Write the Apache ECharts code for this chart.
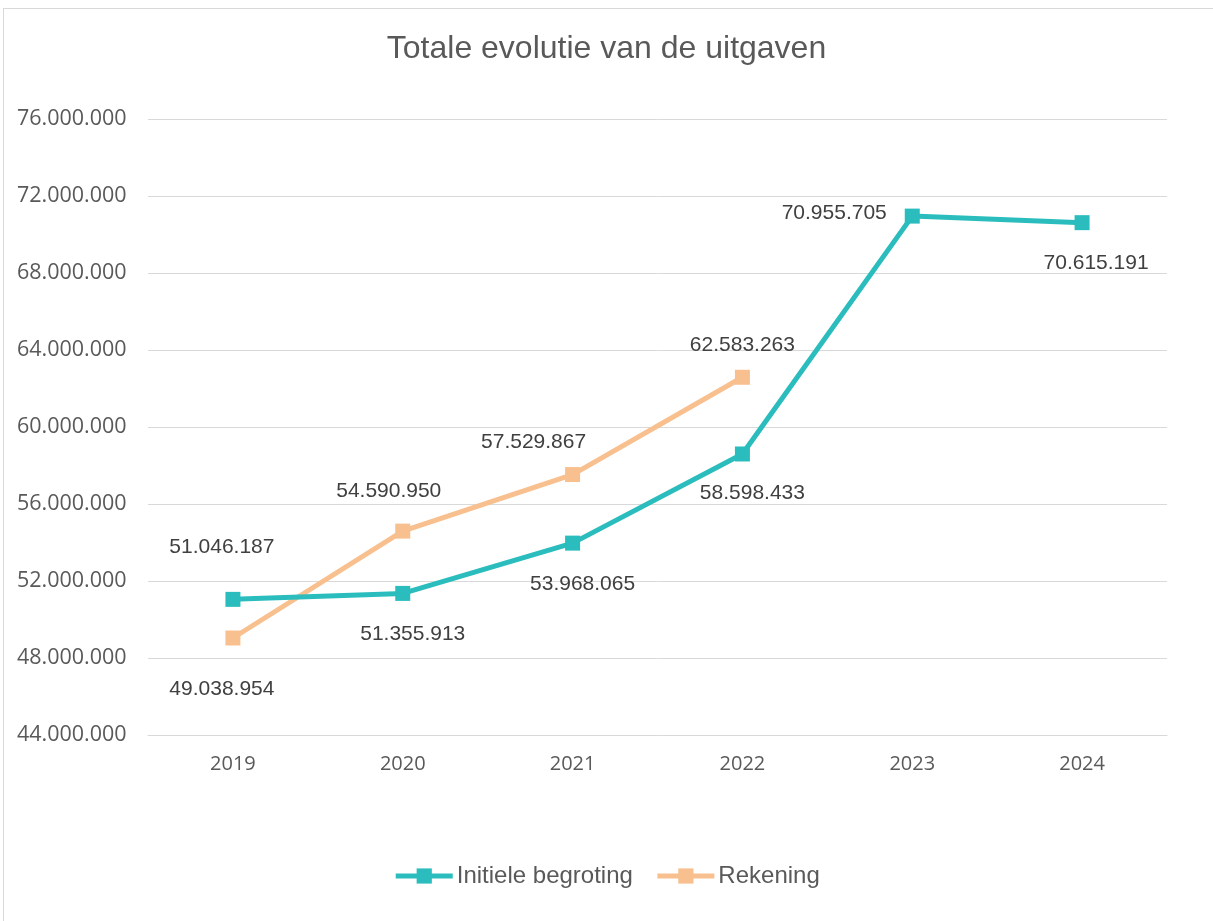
<!DOCTYPE html>
<html>
<head>
<meta charset="utf-8">
<script src="https://cdn.jsdelivr.net/npm/echarts@6/dist/echarts.min.js"></script>
<style>
  html, body { margin: 0; padding: 0; background: #fff; overflow: hidden; }
  #frame { position: absolute; left: 3px; top: 8px; width: 1230px; height: 940px; border: 1px solid #d9d9d9; }
  #chart { position: absolute; left: 0; top: 0; width: 1213px; height: 921px; }
</style>
</head>
<body>
<div id="frame"></div>
<div id="chart"></div>
<script>
const years = ['2019', '2020', '2021', '2022', '2023', '2024']
const begroting = [51046187, 51355913, 53968065, 58598433, 70955705, 70615191]
const rekening = [49038954, 54590950, 57529867, 62583263, null, null]

// label placement per point (style, not data)
const begrotingLabelPos = [
  { position: 'top', offset: [-11, -24] },
  { position: 'bottom', offset: [10, 13] },
  { position: 'bottom', offset: [10, 13] },
  { position: 'bottom', offset: [10, 11] },
  { position: 'left', offset: [-8, -3] },
  { position: 'bottom', offset: [14, 13] }
]
const rekeningLabelPos = [
  { position: 'bottom', offset: [-11, 23] },
  { position: 'top', offset: [-14, -12] },
  { position: 'top', offset: [-39, -4] },
  { position: 'top', offset: [0, -4] }
]

const fmt = v => v.toLocaleString('de-DE')

const chart = echarts.init(document.getElementById('chart'))

const labelBase = {
  show: true,
  color: '#404040',
  fontFamily: 'Liberation Sans, Arial, sans-serif',
  fontSize: 21,
  distance: 10,
  formatter: p => fmt(p.value)
}

function buildData(values, positions) {
  return values.map((v, i) => {
    if (v === null) return null
    return { value: v, label: Object.assign({}, positions[i]) }
  })
}

const option = {
  animation: false,
  title: {
    text: 'Totale evolutie van de uitgaven',
    left: 'center',
    top: 28,
    textStyle: {
      fontFamily: 'Liberation Sans, Arial, sans-serif',
      fontWeight: 'normal',
      fontSize: 32,
      color: '#595959'
    }
  },
  legend: {
    bottom: 28,
    left: 'center',
    itemWidth: 57,
    itemHeight: 19,
    itemGap: 22,
    textStyle: {
      fontFamily: 'Liberation Sans, Arial, sans-serif',
      fontSize: 24,
      color: '#595959',
      padding: [0, 0, 0, -1]
    },
    data: [
      { name: 'Initiele begroting', lineStyle: { width: 5 } },
      { name: 'Rekening', lineStyle: { width: 5 } }
    ]
  },
  grid: {
    left: 148,
    right: 46,
    top: 119,
    bottom: 186,
    containLabel: false
  },
  xAxis: {
    type: 'category',
    data: years,
    boundaryGap: true,
    axisLine: { show: true, lineStyle: { color: '#d9d9d9', width: 1 } },
    axisTick: { show: false },
    axisLabel: {
      color: '#595959',
      fontFamily: 'Open Sans, Noto Sans, sans-serif',
      fontSize: 20,
      margin: 19
    }
  },
  yAxis: {
    type: 'value',
    min: 44000000,
    max: 76000000,
    interval: 4000000,
    axisLine: { show: false },
    axisTick: { show: false },
    splitLine: { lineStyle: { color: '#d9d9d9', width: 1 } },
    axisLabel: {
      align: 'left',
      margin: 131,
      color: '#595959',
      fontFamily: 'Open Sans, Noto Sans, sans-serif',
      fontSize: 21.5,
      formatter: v => fmt(v)
    }
  },
  series: [
    {
      name: 'Initiele begroting',
      type: 'line',
      data: buildData(begroting, begrotingLabelPos),
      symbol: 'rect',
      symbolSize: 15,
      itemStyle: { color: '#2bbdbd' },
      lineStyle: { color: '#2bbdbd', width: 5 },
      label: labelBase,
      z: 3
    },
    {
      name: 'Rekening',
      type: 'line',
      data: buildData(rekening, rekeningLabelPos),
      symbol: 'rect',
      symbolSize: 15,
      itemStyle: { color: '#f9c08f' },
      lineStyle: { color: '#f9c08f', width: 5 },
      label: labelBase,
      z: 2
    }
  ]
}

chart.setOption(option)
</script>
</body>
</html>
